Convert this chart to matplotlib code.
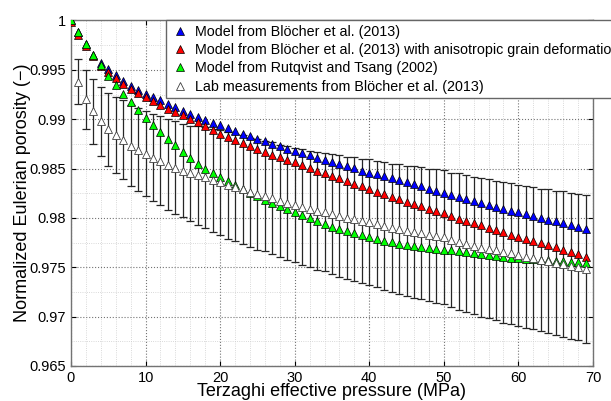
import numpy as np
import matplotlib
matplotlib.use('Agg')
import matplotlib.pyplot as plt
from matplotlib.ticker import MultipleLocator

plt.rcParams['font.family'] = ['Liberation Sans', 'DejaVu Sans']

# Effective pressure steps (MPa), one reading per MPa
pressure = list(range(70))

# Model from Bloecher et al. (2013)
blocher = [1.0000, 0.9988, 0.9976, 0.9965, 0.9957, 0.9951, 0.9945, 0.9939, 0.9934, 0.9930,
           0.9926, 0.9922, 0.9919, 0.9915, 0.9912, 0.9908, 0.9905, 0.9902, 0.9899, 0.9896,
           0.9894, 0.9891, 0.9888, 0.9885, 0.9883, 0.9880, 0.9878, 0.9875, 0.9873, 0.9870,
           0.9868, 0.9866, 0.9864, 0.9861, 0.9859, 0.9857, 0.9855, 0.9853, 0.9851, 0.9848,
           0.9846, 0.9844, 0.9842, 0.9840, 0.9838, 0.9836, 0.9834, 0.9832, 0.9829, 0.9827,
           0.9825, 0.9823, 0.9821, 0.9819, 0.9817, 0.9815, 0.9813, 0.9811, 0.9809, 0.9807,
           0.9806, 0.9804, 0.9802, 0.9800, 0.9798, 0.9797, 0.9795, 0.9793, 0.9791, 0.9789]

# Same model with anisotropic grain deformation
blocher_aniso = [0.9998, 0.9985, 0.9974, 0.9964, 0.9954, 0.9948, 0.9942, 0.9936, 0.9931, 0.9927,
                 0.9923, 0.9918, 0.9914, 0.9910, 0.9907, 0.9904, 0.9900, 0.9897, 0.9893, 0.9889,
                 0.9885, 0.9882, 0.9879, 0.9876, 0.9873, 0.9870, 0.9867, 0.9864, 0.9862, 0.9859,
                 0.9857, 0.9854, 0.9851, 0.9848, 0.9845, 0.9842, 0.9840, 0.9837, 0.9834, 0.9832,
                 0.9829, 0.9826, 0.9824, 0.9821, 0.9819, 0.9816, 0.9814, 0.9812, 0.9809, 0.9807,
                 0.9805, 0.9802, 0.9799, 0.9797, 0.9795, 0.9793, 0.9790, 0.9788, 0.9786, 0.9783,
                 0.9781, 0.9779, 0.9777, 0.9775, 0.9773, 0.9771, 0.9768, 0.9765, 0.9763, 0.9760]

# Model from Rutqvist and Tsang (2002)
rutqvist = [1.0000, 0.9988, 0.9976, 0.9965, 0.9955, 0.9944, 0.9935, 0.9926, 0.9917, 0.9909,
            0.9901, 0.9894, 0.9887, 0.9880, 0.9874, 0.9867, 0.9861, 0.9855, 0.9850, 0.9845,
            0.9841, 0.9837, 0.9833, 0.9829, 0.9825, 0.9822, 0.9818, 0.9815, 0.9812, 0.9809,
            0.9806, 0.9803, 0.9800, 0.9797, 0.9794, 0.9791, 0.9789, 0.9787, 0.9785, 0.9783,
            0.9781, 0.9779, 0.9777, 0.9776, 0.9774, 0.9773, 0.9772, 0.9771, 0.9770, 0.9769,
            0.9768, 0.9767, 0.9766, 0.9765, 0.9764, 0.9763, 0.9762, 0.9761, 0.9760, 0.9759,
            0.9759, 0.9758, 0.9758, 0.9757, 0.9757, 0.9756, 0.9756, 0.9755, 0.9755, 0.9754]

# Lab measurements (start at 1 MPa) and their error
lab_pressure = list(range(1, 70))
lab = [0.9938, 0.9920, 0.9908, 0.9898, 0.9890, 0.9884, 0.9879, 0.9873, 0.9869,
       0.9865, 0.9861, 0.9858, 0.9854, 0.9851, 0.9848, 0.9845, 0.9843, 0.9841, 0.9838,
       0.9836, 0.9833, 0.9831, 0.9829, 0.9826, 0.9824, 0.9822, 0.9820, 0.9817, 0.9815,
       0.9813, 0.9811, 0.9809, 0.9807, 0.9806, 0.9804, 0.9802, 0.9800, 0.9799, 0.9797,
       0.9796, 0.9794, 0.9792, 0.9790, 0.9789, 0.9787, 0.9786, 0.9785, 0.9783, 0.9782,
       0.9781, 0.9778, 0.9776, 0.9774, 0.9772, 0.9770, 0.9769, 0.9767, 0.9765, 0.9764,
       0.9762, 0.9760, 0.9759, 0.9757, 0.9756, 0.9754, 0.9753, 0.9751, 0.9750, 0.9748]
lab_err = [0.0023, 0.0030, 0.0033, 0.0035, 0.0037, 0.0039, 0.0040, 0.0041, 0.0042,
           0.0043, 0.0044, 0.0045, 0.0046, 0.0047, 0.0047, 0.0048, 0.0050, 0.0051, 0.0052,
           0.0053, 0.0054, 0.0054, 0.0055, 0.0055, 0.0056, 0.0056, 0.0057, 0.0057, 0.0058,
           0.0058, 0.0059, 0.0059, 0.0060, 0.0060, 0.0061, 0.0062, 0.0062, 0.0063, 0.0063,
           0.0064, 0.0064, 0.0065, 0.0065, 0.0066, 0.0066, 0.0067, 0.0067, 0.0067, 0.0068,
           0.0068, 0.0068, 0.0069, 0.0069, 0.0069, 0.0070, 0.0070, 0.0070, 0.0071, 0.0071,
           0.0071, 0.0072, 0.0072, 0.0072, 0.0073, 0.0073, 0.0074, 0.0074, 0.0074, 0.0075]

labels = ['Model from Blöcher et al. (2013)',
          'Model from Blöcher et al. (2013) with anisotropic grain deformation',
          'Model from Rutqvist and Tsang (2002)',
          'Lab measurements from Blöcher et al. (2013)']

fig = plt.figure(figsize=(6.11, 4.01), dpi=100)
ax = fig.add_axes([0.1162, 0.0873, 0.8543, 0.8616])

mk = dict(linestyle='none', marker='^', markersize=5.5, markeredgewidth=0.5,
          markeredgecolor='k', zorder=3)
ax.plot(pressure, blocher, markerfacecolor='#0000ff', label=labels[0], **mk)
ax.plot(pressure, blocher_aniso, markerfacecolor='#ff0000', label=labels[1], **mk)
ax.plot(pressure, rutqvist, markerfacecolor='#00ff00', label=labels[2], **mk)
# error bars alone, then the lab markers so the legend shows a plain triangle
ax.errorbar(lab_pressure, lab, yerr=lab_err, fmt='none', ecolor='0.15',
            elinewidth=0.9, capsize=3, capthick=0.9, zorder=2)
ax.plot(lab_pressure, lab, linestyle='none', marker='^', markersize=5.5,
        markerfacecolor='white', markeredgecolor='0.25', markeredgewidth=0.6,
        label=labels[3], zorder=3)

ax.set_xlim(0, 70)
ax.set_ylim(0.965, 1.0)
ax.xaxis.set_major_locator(MultipleLocator(10))
ax.xaxis.set_minor_locator(MultipleLocator(2))
ax.yaxis.set_minor_locator(MultipleLocator(0.0025))
ax.set_yticks([0.965, 0.97, 0.975, 0.98, 0.985, 0.99, 0.995, 1.0])
ax.set_yticklabels(['0.965', '0.97', '0.975', '0.98', '0.985', '0.99', '0.995', '1'])

ax.grid(which='major', linestyle=':', color='0.45', linewidth=0.8)
ax.grid(which='minor', linestyle=':', color='0.8', linewidth=0.6)
ax.set_axisbelow(True)
ax.tick_params(which='both', direction='in', labelsize=10.5, top=True, right=True)
ax.tick_params(which='major', length=3.5)
ax.tick_params(which='minor', length=0)
for s in ax.spines.values():
    s.set_color('0.45')
    s.set_linewidth(1.0)

ax.set_xlabel('Terzaghi effective pressure (MPa)', fontsize=13, labelpad=-1)
ax.set_ylabel('Normalized Eulerian porosity (−)', fontsize=13, labelpad=-1)

leg = ax.legend(loc='upper left', bbox_to_anchor=(0.182, 1.0), borderaxespad=0,
                fontsize=10.3, fancybox=False, edgecolor='0.4', framealpha=1,
                handletextpad=0.3, handlelength=1.4, labelspacing=0.3,
                borderpad=0.3, numpoints=1)
leg.get_frame().set_linewidth(1.0)

fig.savefig('out.png', dpi=100)
